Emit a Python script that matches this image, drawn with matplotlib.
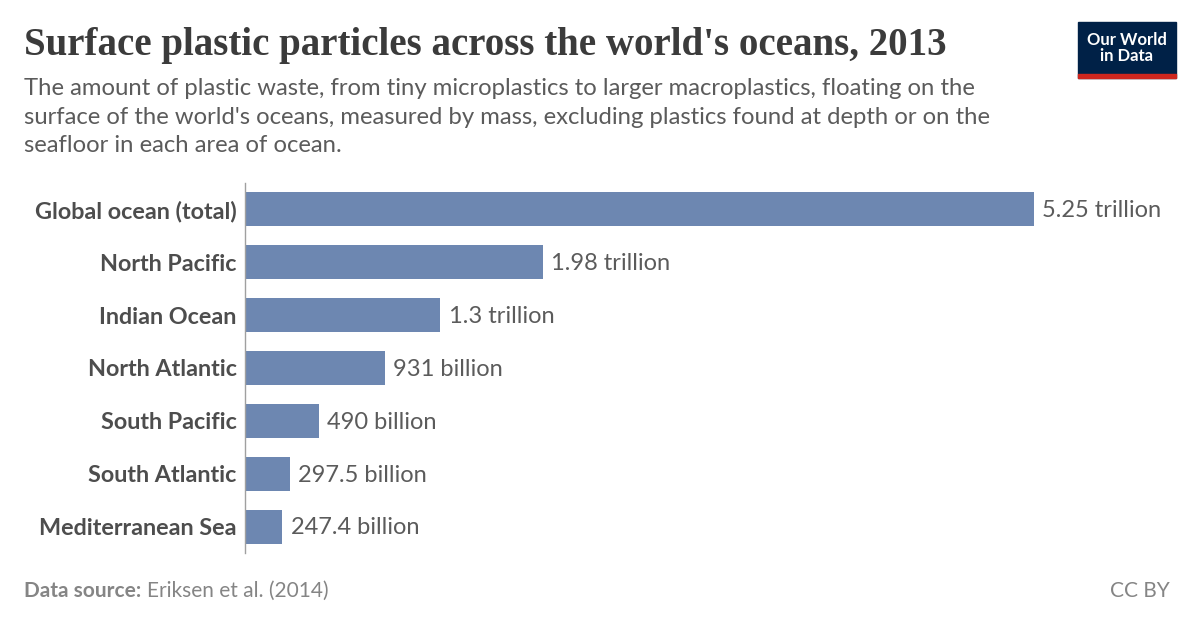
import matplotlib.pyplot as plt
from matplotlib.patches import Rectangle

# ── Data ──────────────────────────────────────────────────────────────────────
regions = [
    "Global ocean (total)",
    "North Pacific",
    "Indian Ocean",
    "North Atlantic",
    "South Pacific",
    "South Atlantic",
    "Mediterranean Sea",
]
particles = [5.25e12, 1.98e12, 1.3e12, 931e9, 490e9, 297.5e9, 247.4e9]
value_labels = [
    "5.25 trillion", "1.98 trillion", "1.3 trillion", "931 billion",
    "490 billion", "297.5 billion", "247.4 billion",
]

BAR_COLOR = "#6d87b1"
TEXT_DARK = "#4d4d4d"
TEXT_MID = "#5b5b5b"
TEXT_LIGHT = "#858585"

plt.rcParams["font.family"] = ["Lato", "DejaVu Sans"]

W, H = 1200, 628
fig = plt.figure(figsize=(W / 100, H / 100), dpi=100, facecolor="white")

def fx(px):
    return px / W

def fy(py):
    return 1 - py / H

# ── Bars ──────────────────────────────────────────────────────────────────────
ax = fig.add_axes([fx(245), fy(553), fx(1034) - fx(245), fy(183) - fy(553)])
ypos = list(range(len(regions)))
ax.barh(ypos, particles, height=0.645, color=BAR_COLOR, zorder=2)
ax.set_xlim(0, max(particles))
ax.set_ylim(len(regions) - 0.5, -0.5)
ax.set_yticks(ypos)
ax.set_yticklabels(regions, fontsize=16.8, fontweight="bold", color=TEXT_DARK)
ax.tick_params(axis="y", length=0, pad=6)
ax.set_xticks([])
for side in ["top", "right", "bottom"]:
    ax.spines[side].set_visible(False)
ax.spines["left"].set_color("#a0a0a0")
ax.spines["left"].set_linewidth(1.0)

for y, v, lbl in zip(ypos, particles, value_labels):
    ax.annotate(lbl, (v, y), xytext=(6, -1), textcoords="offset points",
                ha="left", va="center", fontsize=17, color=TEXT_MID,
                annotation_clip=False)

# ── Title & subtitle ──────────────────────────────────────────────────────────
fig.text(fx(24), fy(45), "Surface plastic particles across the world's oceans, 2013",
         family=["Liberation Serif", "DejaVu Serif"], fontsize=28,
         fontweight="bold", color="#3b3b3b", va="center", ha="left")

subtitle = ("The amount of plastic waste, from tiny microplastics to larger macroplastics, floating on the\n"
            "surface of the world's oceans, measured by mass, excluding plastics found at depth or on the\n"
            "seafloor in each area of ocean.")
fig.text(fx(24), fy(78), subtitle, fontsize=17.2, color=TEXT_MID,
         va="top", ha="left", linespacing=1.45)

# ── Footer ────────────────────────────────────────────────────────────────────
src = fig.text(fx(24), fy(591), "Data source:", fontsize=15, fontweight="bold",
               color=TEXT_LIGHT, va="center", ha="left")
fig.canvas.draw()
bb = src.get_window_extent()
fig.text(bb.x1 / W + fx(6), fy(591), "Eriksen et al. (2014)", fontsize=15,
         color=TEXT_LIGHT, va="center", ha="left")
fig.text(fx(1170), fy(591), "CC BY", fontsize=15, color=TEXT_LIGHT,
         va="center", ha="right")

# ── Logo ──────────────────────────────────────────────────────────────────────
fig.patches.append(Rectangle((fx(1078), fy(78)), fx(98), fy(22) - fy(78),
                             transform=fig.transFigure, color="#002147"))
fig.patches.append(Rectangle((fx(1078), fy(78)), fx(98), fy(74) - fy(78),
                             transform=fig.transFigure, color="#ce261e"))
fig.text(fx(1127), fy(48), "Our World\nin Data", fontsize=12, fontweight="bold",
         color="white", ha="center", va="center", linespacing=1.05)

fig.savefig("out.png", dpi=100, facecolor="white")
